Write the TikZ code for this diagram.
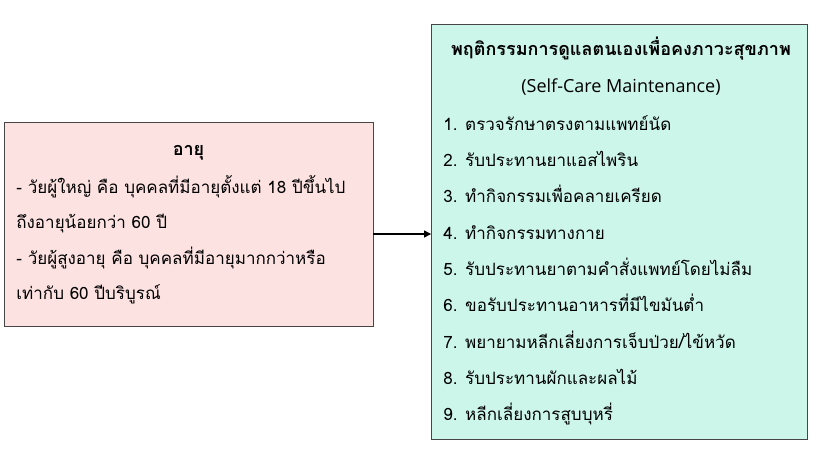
\documentclass[tikz,border=0pt]{standalone}
\usepackage{fontspec}
\setmainfont[Script=Thai]{Loma}
\newfontfamily\latinfont{Open Sans}
\usetikzlibrary{arrows.meta}

\definecolor{agepink}{RGB}{253,226,226}
\definecolor{caremint}{RGB}{204,246,234}
\definecolor{boxline}{RGB}{70,70,70}

\begin{document}
\begin{tikzpicture}[x=1pt,y=-1pt,>={Triangle[length=7pt,width=7pt]},thick,
    box node/.style={draw=boxline,line width=0.9pt,rectangle,inner sep=0pt},
    head node/.style={font=\fontsize{18}{21}\selectfont\bfseries,anchor=base,inner sep=0pt},
    line node/.style={font=\fontsize{17}{20}\selectfont,anchor=base west,inner sep=0pt}]
                    \useasboundingbox (0,0) rectangle (816,450);

                    \node[box node,fill=agepink,minimum width=369pt,minimum height=204pt] (age) at (188.5,224) {};
                    \node[box node,fill=caremint,minimum width=376pt,minimum height=415pt] (care) at (619.5,231.5) {};

                    \node[head node] (agehead) at (188.5,155) {อายุ};
                    \node[line node] (age1) at (16,193) {- วัยผู้ใหญ่ คือ บุคคลที่มีอายุตั้งแต่ 18 ปีขึ้นไป};
                    \node[line node] (age2) at (16,228) {ถึงอายุน้อยกว่า 60 ปี};
                    \node[line node] (age3) at (16,264) {- วัยผู้สูงอายุ คือ บุคคลที่มีอายุมากกว่าหรือ};
                    \node[line node] (age4) at (16,299) {เท่ากับ 60 ปีบริบูรณ์};

                    \node[head node] (carehead) at (621,55) {พฤติกรรมการดูแลตนเองเพื่อคงภาวะสุขภาพ};
                    \node[head node,font=\fontsize{18}{21}\selectfont\latinfont] (careeng) at (621,92) {(Self-Care Maintenance)};
                    \node[line node] (care1) at (443,130) {1. ตรวจรักษาตรงตามแพทย์นัด};
                    \node[line node] (care2) at (443,166) {2. รับประทานยาแอสไพริน};
                    \node[line node] (care3) at (443,202) {3. ทำกิจกรรมเพื่อคลายเครียด};
                    \node[line node] (care4) at (443,239) {4. ทำกิจกรรมทางกาย};
                    \node[line node] (care5) at (443,275) {5. รับประทานยาตามคำสั่งแพทย์โดยไม่ลืม};
                    \node[line node] (care6) at (443,311) {6. ขอรับประทานอาหารที่มีไขมันต่ำ};
                    \node[line node] (care7) at (443,348) {7. พยายามหลีกเลี่ยงการเจ็บป่วย/ไข้หวัด};
                    \node[line node] (care8) at (443,384) {8. รับประทานผักและผลไม้};
                    \node[line node] (care9) at (443,420) {9. หลีกเลี่ยงการสูบบุหรี่};

                    \draw[->,line width=1.2pt] (age.east |- 0,234) -- (care.west |- 0,234);
                \end{tikzpicture}
\end{document}
